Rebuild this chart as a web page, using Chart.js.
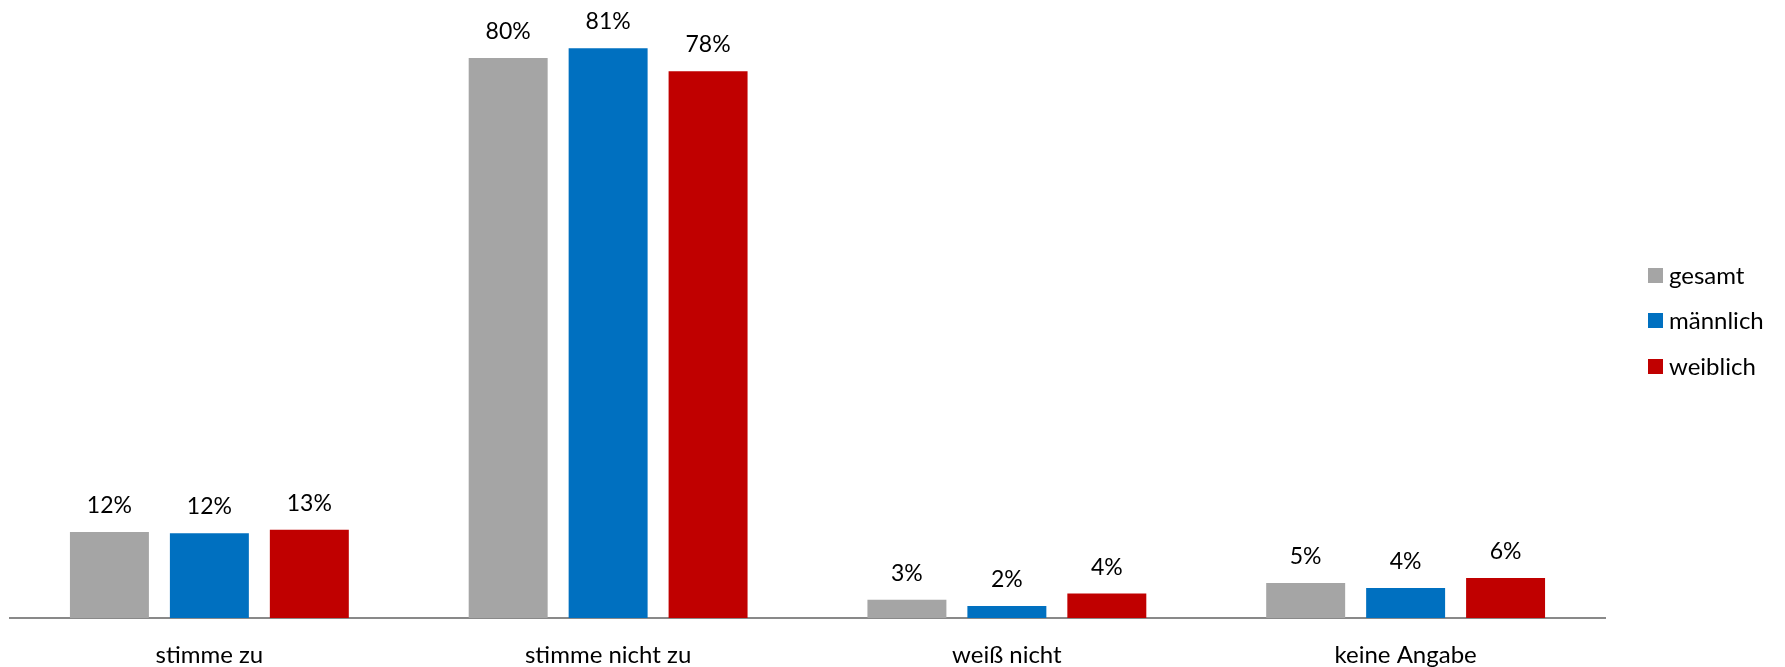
<!DOCTYPE html>
<html>
<head>
<meta charset="utf-8">
<script src="https://cdn.jsdelivr.net/npm/chart.js@4"></script>
<style>
  html, body { margin: 0; padding: 0; background: #fff; }
  #wrap { width: 1785px; height: 667px; }
</style>
</head>
<body>
<div id="wrap"><canvas id="chart" width="1785" height="667"></canvas></div>
<script>
// Kategorien und Werte (in %)
const categories = ['stimme zu', 'stimme nicht zu', 'weiß nicht', 'keine Angabe'];
const gesamt = [12.3, 80.0, 2.6, 5.0];
const maennlich = [12.1, 81.4, 1.7, 4.3];
const weiblich = [12.6, 78.1, 3.5, 5.7];
const seriesNames = ['gesamt', 'männlich', 'weiblich'];
const seriesColors = ['#A5A5A5', '#0070C0', '#C00000'];

const FONT = 'Lato, "Noto Sans", sans-serif';

// Werte über den Balken
const valueLabels = {
    id: 'valueLabels',
    afterDatasetsDraw(chart) {
        const ctx = chart.ctx;
        ctx.save();
        ctx.font = '23px ' + FONT;
        ctx.fillStyle = '#000';
        ctx.textAlign = 'center';
        ctx.textBaseline = 'alphabetic';
        chart.data.datasets.forEach((ds, i) => {
            chart.getDatasetMeta(i).data.forEach((bar, j) => {
                ctx.fillText(Math.round(ds.data[j]) + '%', bar.x, bar.y - 19);
            });
        });
        ctx.restore();
    }
};

// Legende rechts
const sideLegend = {
    id: 'sideLegend',
    afterDraw(chart) {
        const ctx = chart.ctx;
        ctx.save();
        ctx.font = '24px ' + FONT;
        ctx.textBaseline = 'middle';
        ctx.textAlign = 'left';
        const rows = [275, 320, 366];
        chart.data.datasets.forEach((ds, i) => {
            const y = rows[i];
            ctx.fillStyle = ds.backgroundColor;
            ctx.fillRect(1648, y - 7, 15, 15);
            ctx.fillStyle = '#000';
            ctx.fillText(ds.label, 1669, y + 1);
        });
        ctx.restore();
    }
};

new Chart(document.getElementById('chart'), {
    type: 'bar',
    data: {
        labels: categories,
        datasets: [
            { label: seriesNames[0], data: gesamt, backgroundColor: seriesColors[0] },
            { label: seriesNames[1], data: maennlich, backgroundColor: seriesColors[1] },
            { label: seriesNames[2], data: weiblich, backgroundColor: seriesColors[2] }
        ]
    },
    options: {
        responsive: false,
        animation: false,
        devicePixelRatio: 1,
        layout: { padding: { left: 10, right: 180, top: 2, bottom: 0 } },
        datasets: {
            bar: { categoryPercentage: 0.752, barPercentage: 0.79 }
        },
        plugins: {
            legend: { display: false },
            tooltip: { enabled: false }
        },
        scales: {
            x: {
                grid: { display: false, drawTicks: false },
                border: { display: true, color: '#898989', width: 2 },
                ticks: {
                    color: '#000',
                    padding: 23,
                    font: { family: FONT, size: 24 }
                },
                afterFit(scale) {
                    scale.height = 49;
                }
            },
            y: {
                display: false,
                min: 0,
                max: 88
            }
        }
    },
    plugins: [valueLabels, sideLegend]
});
</script>
</body>
</html>
